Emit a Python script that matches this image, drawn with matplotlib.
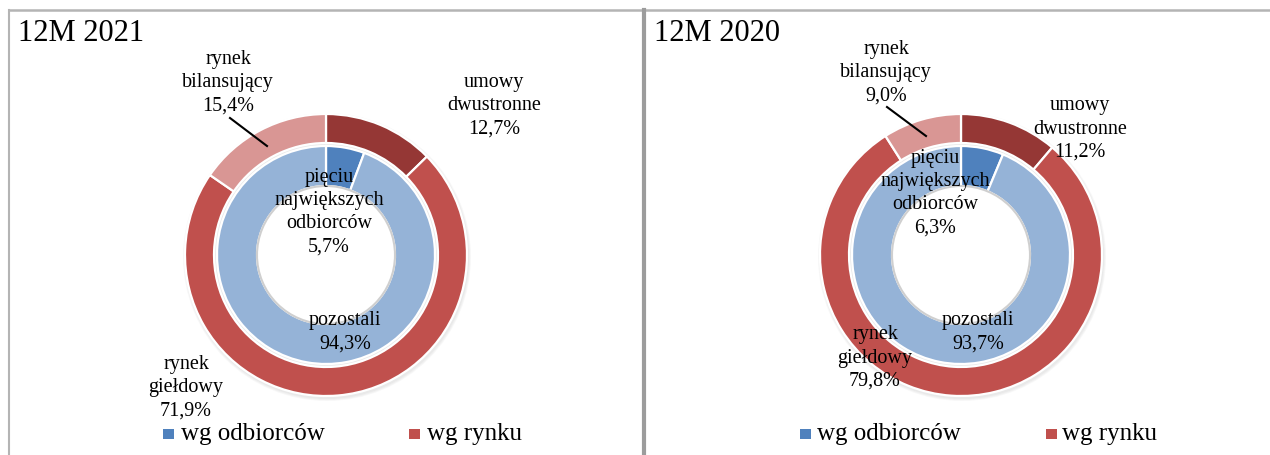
import matplotlib
matplotlib.use("Agg")
import matplotlib.pyplot as plt
from matplotlib.patches import Rectangle, Circle

# ---- data ----
panel_titles = ["12M 2021", "12M 2020"]
market_labels = ["umowy\ndwustronne", "rynek\ngiełdowy", "rynek\nbilansujący"]
market_2021 = [12.7, 71.9, 15.4]
market_2020 = [11.2, 79.8, 9.0]
buyer_labels = ["pięciu\nnajwiększych\nodbiorców", "pozostali"]
buyers_2021 = [5.7, 94.3]
buyers_2020 = [6.3, 93.7]
legend_labels = ["wg odbiorców", "wg rynku"]

market_colors = ["#953735", "#C0504D", "#D99694"]
buyer_colors = ["#4F81BD", "#95B3D7"]

W, H = 1270, 456
fig = plt.figure(figsize=(W / 100, H / 100), dpi=100)
ax = fig.add_axes([0, 0, 1, 1])
FONT = ["Liberation Serif", "DejaVu Serif"]

def Y(y):
    return H - y

def fmt(v):
    return f"{v:.1f}".replace(".", ",") + "%"

panels = [
    dict(cx=326, cy=256, market=market_2021, buyers=buyers_2021, title_x=18,
         market_pos=[(494, 106), (186, 388), (228, 83)],
         buyer_pos=[(329, 212), (345, 332)],
         leader=((230, 119), (267, 147)),
         leg=[(163, 181), (409, 427)]),
    dict(cx=961, cy=256, market=market_2020, buyers=buyers_2020, title_x=654,
         market_pos=[(1080, 129), (875, 358), (886, 73)],
         buyer_pos=[(935, 193), (978, 332)],
         leader=((887, 108), (926, 137)),
         leg=[(800, 817), (1046, 1062)]),
]

R_OUT, W_OUT = 141, 29
R_IN, W_IN = 109, 40
TS = 14.5
LS = 1.3

for i, p in enumerate(panels):
    c = (p["cx"], Y(p["cy"]))
    # soft shadow
    for k in range(3):
        ax.add_patch(Circle((c[0] + 1, c[1] - 2), R_OUT + 1 + k, color="gray", alpha=0.06, lw=0))
    ax.pie(p["market"], radius=R_OUT, center=c, startangle=90, counterclock=False,
           colors=market_colors, frame=True,
           wedgeprops=dict(width=W_OUT, edgecolor="white", linewidth=1.6))
    ax.pie(p["buyers"], radius=R_IN, center=c, startangle=90, counterclock=False,
           colors=buyer_colors, frame=True,
           wedgeprops=dict(width=W_IN, edgecolor="white", linewidth=1.6))
    # inner hole shadow
    ax.add_patch(Circle(c, R_IN - W_IN, facecolor="white", edgecolor="#cfcfcf", lw=1.5, zorder=3))
    ax.add_patch(Circle(c, R_IN - W_IN - 2, facecolor="white", edgecolor="none", zorder=3))

    for lab, v, (x, y) in zip(market_labels, p["market"], p["market_pos"]):
        ax.text(x, Y(y), f"{lab}\n{fmt(v)}", ha="center", va="center", fontsize=TS,
                family=FONT, linespacing=LS, zorder=5)
    for lab, v, (x, y) in zip(buyer_labels, p["buyers"], p["buyer_pos"]):
        ax.text(x, Y(y), f"{lab}\n{fmt(v)}", ha="center", va="center", fontsize=TS,
                family=FONT, linespacing=LS, zorder=5)
    (x1, y1), (x2, y2) = p["leader"]
    ax.plot([x1, x2], [Y(y1), Y(y2)], color="black", lw=1.5, zorder=5)

    ax.text(p["title_x"], Y(33), panel_titles[i],
            ha="left", va="center", fontsize=22, family=FONT)

    for (mx, tx), lab, col in zip(p["leg"], legend_labels, [buyer_colors[0], market_colors[1]]):
        ax.add_patch(Rectangle((mx, Y(440)), 11, 10, color=col, lw=0))
        ax.text(tx, Y(434), lab, ha="left", va="center", fontsize=18, family=FONT)

# panel borders
ax.plot([9, 9], [Y(11), Y(460)], color="#b4b4b4", lw=1.5)
ax.plot([9, W + 5], [Y(11), Y(11)], color="#b4b4b4", lw=1.8)
ax.plot([644, 644], [Y(11), Y(460)], color="#9c9c9c", lw=3)

ax.set_xlim(0, W)
ax.set_ylim(0, H)
ax.set_aspect("auto")
ax.axis("off")
fig.savefig("out.png", dpi=100)
